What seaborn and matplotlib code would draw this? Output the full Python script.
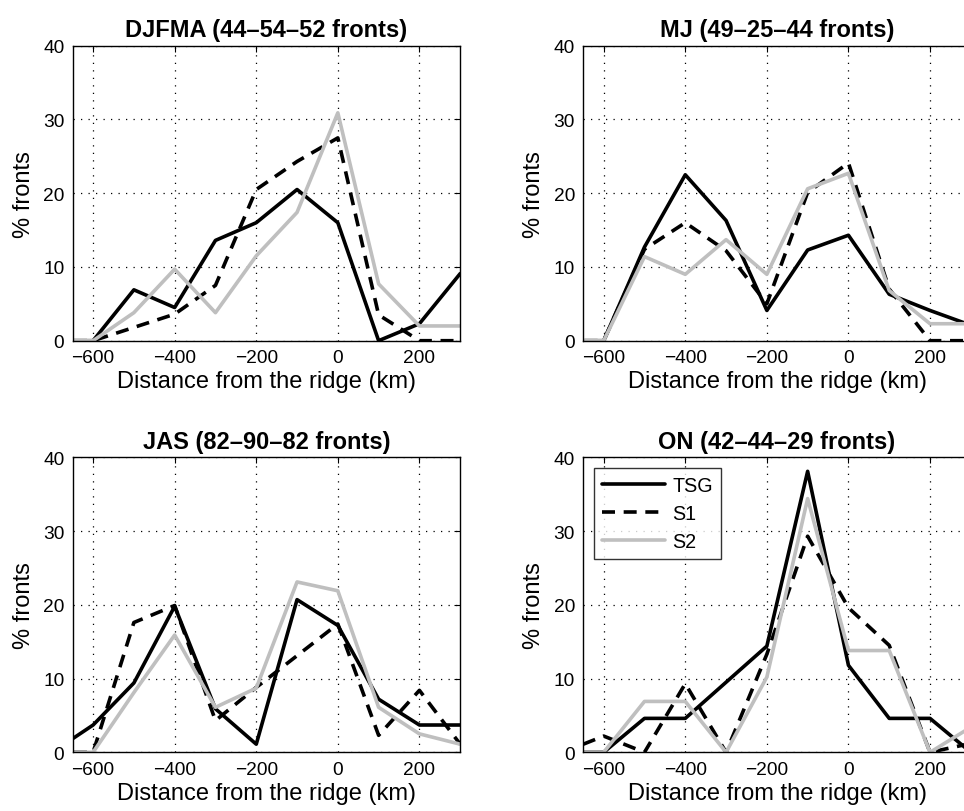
import numpy as np
import pandas as pd
import matplotlib
matplotlib.use("Agg")
import matplotlib.pyplot as plt
import seaborn as sns

# ---- data ----
distance = [-700, -600, -500, -400, -300, -200, -100, 0, 100, 200, 300]
series_names = ["TSG", "S1", "S2"]
titles = ["DJFMA (44\u201354\u201352 fronts)", "MJ (49\u201325\u201344 fronts)",
          "JAS (82\u201390\u201382 fronts)", "ON (42\u201344\u201329 fronts)"]

djfma_tsg = [0, 0, 6.9, 4.5, 13.6, 16.0, 20.5, 16.0, 0, 2.3, 9.1]
djfma_s1 = [0, 0, 1.8, 3.6, 7.5, 20.5, 24.3, 27.5, 3.5, 0, 0]
djfma_s2 = [0, 0, 3.8, 9.7, 3.8, 11.5, 17.4, 30.9, 7.7, 2.0, 2.0]

mj_tsg = [0, 0, 12.7, 22.5, 16.3, 4.1, 12.3, 14.3, 6.3, 4.1, 2.1]
mj_s1 = [0, 0, 12.4, 16.0, 12.2, 5.0, 20.1, 24.1, 7.0, 0, 0]
mj_s2 = [0, 0, 11.4, 9.0, 13.7, 9.0, 20.6, 22.7, 6.8, 2.3, 2.3]

jas_tsg = [0, 3.7, 9.4, 19.8, 5.9, 1.1, 20.7, 17.2, 7.2, 3.7, 3.7]
jas_s1 = [0, 0, 17.6, 19.9, 4.3, 8.8, 13.1, 17.4, 2.3, 8.4, 1.1]
jas_s2 = [0, 0, 8.1, 15.9, 6.1, 8.7, 23.1, 21.9, 6.1, 2.5, 1.1]

on_tsg = [0, 0, 4.6, 4.6, 9.5, 14.4, 38.1, 11.8, 4.6, 4.6, 0]
on_s1 = [0, 2.2, 0, 9.3, 0, 13.3, 29.3, 19.6, 14.5, 0, 1.2]
on_s2 = [0, 0, 6.9, 6.9, 0, 10.2, 34.4, 13.8, 13.8, 0, 3.4]

panels = [
    (djfma_tsg, djfma_s1, djfma_s2),
    (mj_tsg, mj_s1, mj_s2),
    (jas_tsg, jas_s1, jas_s2),
    (on_tsg, on_s1, on_s2),
]

x_ticks = [-600, -400, -200, 0, 200]
y_ticks = [0, 10, 20, 30, 40]

# ---- style ----
sns.set_theme(style="white")
plt.rcParams["font.family"] = ["Liberation Sans", "DejaVu Sans"]
plt.rcParams["text.color"] = "black"
plt.rcParams["axes.labelcolor"] = "black"
plt.rcParams["legend.labelcolor"] = "black"

palette = {"TSG": "black", "S1": "black", "S2": "#bfbfbf"}
dashes = {"TSG": "", "S1": (3.6, 2.4), "S2": ""}

fig = plt.figure(figsize=(9.64, 8.12), dpi=100)
W, H = 964, 812
ax_w, ax_h = 387.5 / W, 295 / H
positions = [
    (72.7 / W, 1 - 341.7 / H),
    (583.3 / W, 1 - 341.7 / H),
    (72.7 / W, 1 - 753.3 / H),
    (583.3 / W, 1 - 753.3 / H),
]

for i, (vals, title, pos) in enumerate(zip(panels, titles, positions)):
    ax = fig.add_axes([pos[0], pos[1], ax_w, ax_h])
    df = pd.DataFrame({
        "Distance": distance * 3,
        "value": list(vals[0]) + list(vals[1]) + list(vals[2]),
        "series": [s for s in series_names for _ in distance],
    })
    sns.lineplot(data=df, x="Distance", y="value", hue="series", style="series",
                 palette=palette, dashes=dashes, hue_order=series_names,
                 style_order=series_names, estimator=None, sort=False,
                 linewidth=2.6, ax=ax, legend=(i == 3))
    ax.set_xlim(-650, 300)
    ax.set_ylim(0, 40)
    ax.set_xticks(x_ticks)
    ax.set_yticks(y_ticks)
    ax.grid(True, color="black", linestyle=(0, (1, 5)), linewidth=0.9)
    ax.set_axisbelow(True)
    for sp in ax.spines.values():
        sp.set_visible(True)
        sp.set_color("black")
        sp.set_linewidth(1.0)
    ax.tick_params(direction="in", top=True, right=True, length=4, width=0.8,
                   labelsize=13.8, colors="black", pad=6)
    ax.set_title(title, fontsize=17, fontweight="bold", pad=7, color="black")
    ax.set_xlabel("Distance from the ridge (km)", fontsize=17, labelpad=3,
                  color="black")
    ax.set_ylabel("% fronts", fontsize=17, labelpad=6, color="black")
    if i == 3:
        leg = ax.legend(loc="upper left", fontsize=14.2, frameon=True,
                        fancybox=False, edgecolor="black", handlelength=3.2,
                        borderpad=0.4, labelspacing=0.45, handletextpad=0.35,
                        borderaxespad=0.55)
        leg.get_frame().set_linewidth(1.0)
        leg.set_title(None)
        for t in leg.get_texts():
            t.set_color("black")

fig.savefig("out.png", dpi=100)
